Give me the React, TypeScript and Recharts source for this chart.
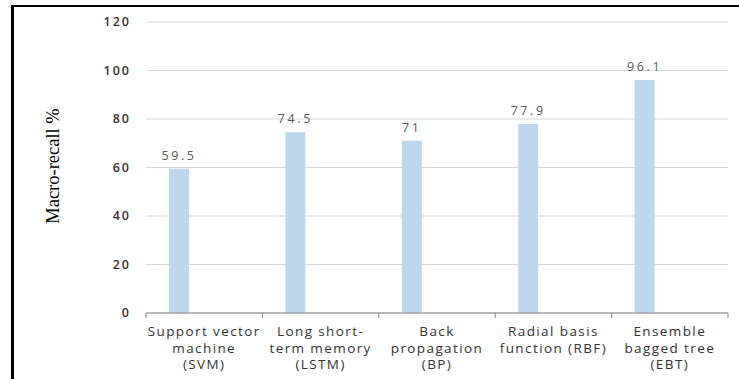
import React from "react";
import { BarChart, Bar, XAxis, YAxis, CartesianGrid, LabelList } from "recharts";

// Classifier names (line breaks mark how each label wraps under the axis)
const classifiers = [
  "Support vector\nmachine\n(SVM)",
  "Long short-\nterm memory\n(LSTM)",
  "Back\npropagation\n(BP)",
  "Radial basis\nfunction (RBF)",
  "Ensemble\nbagged tree\n(EBT)",
];

// Macro-recall per classifier, in percent
const macroRecall = [59.5, 74.5, 71, 77.9, 96.1];

// Value axis ticks
const recallTicks = [0, 20, 40, 60, 80, 100, 120];

const data = classifiers.map((name, i) => ({ name, recall: macroRecall[i] }));

const W = 739;
const H = 379;
const MARGIN = { top: 22, right: 11, bottom: 0, left: 0 };
const Y_AXIS_W = 146;
const X_AXIS_H = 66;

const labelFont = "'Open Sans', 'DejaVu Sans', sans-serif";
const fallbackHalfBand = (W - Y_AXIS_W - MARGIN.right) / classifiers.length / 2;

const CategoryTick = (props: any) => {
  const { x, y, payload, index } = props;
  const half = payload && payload.offset ? payload.offset : fallbackHalfBand;
  const lines = String(payload.value).split("\n");
  const isLast = index === classifiers.length - 1;
  return (
    <g>
      <line x1={x - half} x2={x - half} y1={y} y2={y + 5} stroke="#868686" strokeWidth={1} />
      {isLast && (
        <line x1={x + half} x2={x + half} y1={y} y2={y + 5} stroke="#868686" strokeWidth={1} />
      )}
      <text
        x={x}
        y={y}
        textAnchor="middle"
        fill="#333333"
        fontFamily={labelFont}
        fontSize={13.5}
        letterSpacing={1.4}
      >
        {lines.map((ln, i) => (
          <tspan key={i} x={x} y={y + 23 + i * 16.5}>
            {ln}
          </tspan>
        ))}
      </text>
    </g>
  );
};

const YTitle = () => (
  <text
    x={53}
    y={166}
    transform="rotate(-90 53 166)"
    textAnchor="middle"
    dominantBaseline="central"
    fontFamily="'Liberation Serif', 'Times New Roman', serif"
    fontSize={18.5}
    fill="#000"
  >
    Macro-recall %
  </text>
);

export default function App() {
  return (
    <div style={{ position: "absolute", left: 0, top: 0, width: W, height: H, background: "#fff" }}>
      <BarChart width={W} height={H} data={data} margin={MARGIN} barGap={30}>
        <CartesianGrid vertical={false} stroke="#D9D9D9" strokeWidth={1} />
        <XAxis
          dataKey="name"
          height={X_AXIS_H}
          interval={0}
          axisLine={{ stroke: "#868686", strokeWidth: 1 }}
          tickLine={false}
          tickSize={0}
          tickMargin={0}
          tick={<CategoryTick />}
        />
        <YAxis
          width={Y_AXIS_W}
          domain={[0, 120]}
          ticks={recallTicks}
          interval={0}
          axisLine={false}
          tickLine={false}
          tickSize={0}
          tickMargin={15}
          tick={{ fill: "#333333", fontSize: 12.5, fontWeight: 600, fontFamily: labelFont, letterSpacing: 2 }}
        />
        <Bar dataKey="recall" fill="#BDD7EE" barSize={20} isAnimationActive={false}>
          <LabelList
            dataKey="recall"
            position="top"
            offset={9}
            fill="#595959"
            fontSize={12.5}
            fontFamily={labelFont}
            letterSpacing={2.6}
          />
        </Bar>
        {/* empty companion series: keeps each bar left of its category centre */}
        <Bar dataKey="companion" fill="#F8CBAD" barSize={20} isAnimationActive={false} />
        <YTitle />
      </BarChart>
      <div
        style={{
          position: "absolute",
          left: 11,
          top: 5,
          width: W - 11,
          height: H - 5,
          borderTop: "2px solid #000",
          borderLeft: "3px solid #000",
          boxSizing: "border-box",
          pointerEvents: "none",
        }}
      />
    </div>
  );
}
